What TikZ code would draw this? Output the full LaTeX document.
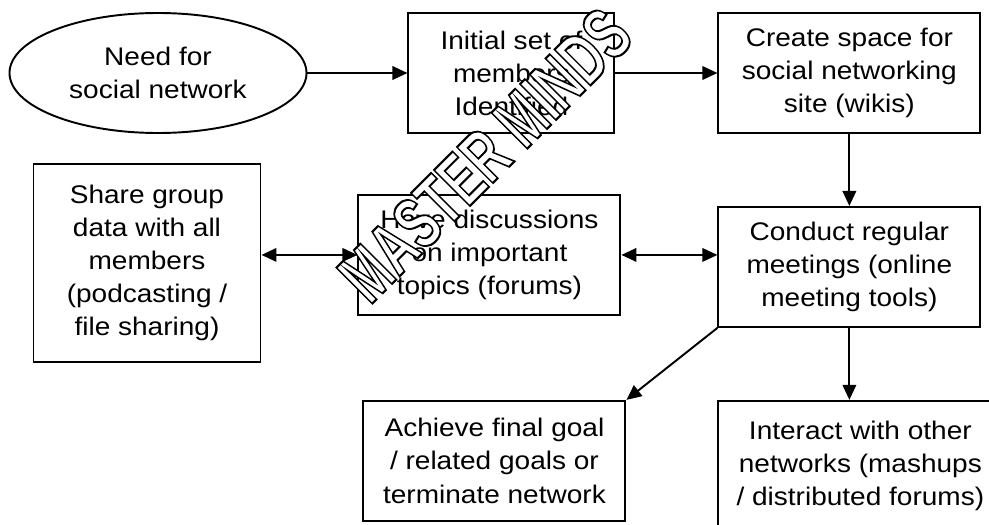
\documentclass[tikz,border=0pt]{standalone}
\usepackage{fontspec}
\setmainfont{Liberation Sans}
\newfontfamily\boxfont{Liberation Sans}[FakeStretch=1.1]
\newfontfamily\markfont{Liberation Sans}
\usetikzlibrary{
    arrows.meta,
    positioning,
    shapes.geometric
}

% outlined letters (white fill, black stroke)
\newcommand{\outlined}[1]{%
  \special{pdf:literal direct 2 Tr 1.2 w 0 0 0 RG 1 1 1 rg}#1%
  \special{pdf:literal direct 0 Tr 0 0 0 rg}}

\begin{document}
\begin{tikzpicture}[
  node distance = 2cm,
  >={Triangle[length=0.3cm, width=0.27cm]},
  line width=1.1pt,
  every node/.style = {font=\boxfont\fontsize{14.5}{18.8}\selectfont},
  stepbox/.style = {rectangle, draw, align=center, inner sep=0pt,
                    minimum width=5.24cm, minimum height=2.4cm},
  start/.style   = {ellipse, draw, align=center, inner sep=0pt,
                    minimum width=5.94cm, minimum height=2.4cm},
  markstyle/.style = {font=\markfont\bfseries\fontsize{42}{42}\selectfont,
                      inner sep=0pt, transform shape}
]
\useasboundingbox (0,0) rectangle (19.78,-10.48);
\clip (0,0) rectangle (19.78,-10.48);

% Nodes
\node[start] (need) at (3.16,-1.46) {Need for\\social network};
\node[stepbox, minimum width=4.12cm, right=2cm of need] (init) {Initial set of\\members\\Identified};
\node[stepbox, right=2.04cm of init] (space) {Create space for\\social networking\\site (wikis)};

\node[stepbox, below=1.44cm of space] (meet) {Conduct regular\\meetings (online\\meeting tools)};
\node[stepbox, left=1.92cm of meet, yshift=0.24cm] (forum) {Have discussions\\on important\\topics (forums)};
\node[stepbox, minimum width=4.54cm, minimum height=3.96cm,
      left=1.92cm of forum, yshift=-0.16cm] (share) {Share group\\data with all\\members\\(podcasting /\\file sharing)};

\node[stepbox, below=1.68cm of forum, xshift=0.1cm] (goal) {Achieve final goal\\/ related goals or\\terminate network};
\node[stepbox, minimum width=5.68cm, minimum height=2.6cm,
      below=1.44cm of meet.south west, anchor=north west] (other) {Interact with other\\networks (mashups\\/ distributed forums)};

% Main flow
\draw[->] (need) -- (init);
\draw[->] (init) -- (space);
\draw[->] (space) -- (meet);

% Two-way links
\draw[<->] (share.east |- forum.west) -- (forum.west);
\draw[<->] (forum.east) -- (meet.west |- forum.east);

% Outcomes
\draw[->] (meet.south west) -- (goal.north east);
\draw[->] (meet.south) -- (meet.south |- other.north);

% Watermark
\begin{scope}[shift={(9.7,-3.1)}, rotate=45, xscale=0.66]
  \node[markstyle] (mark) at (0,0) {\outlined{MASTER MINDS}};
\end{scope}

\end{tikzpicture}
\end{document}
